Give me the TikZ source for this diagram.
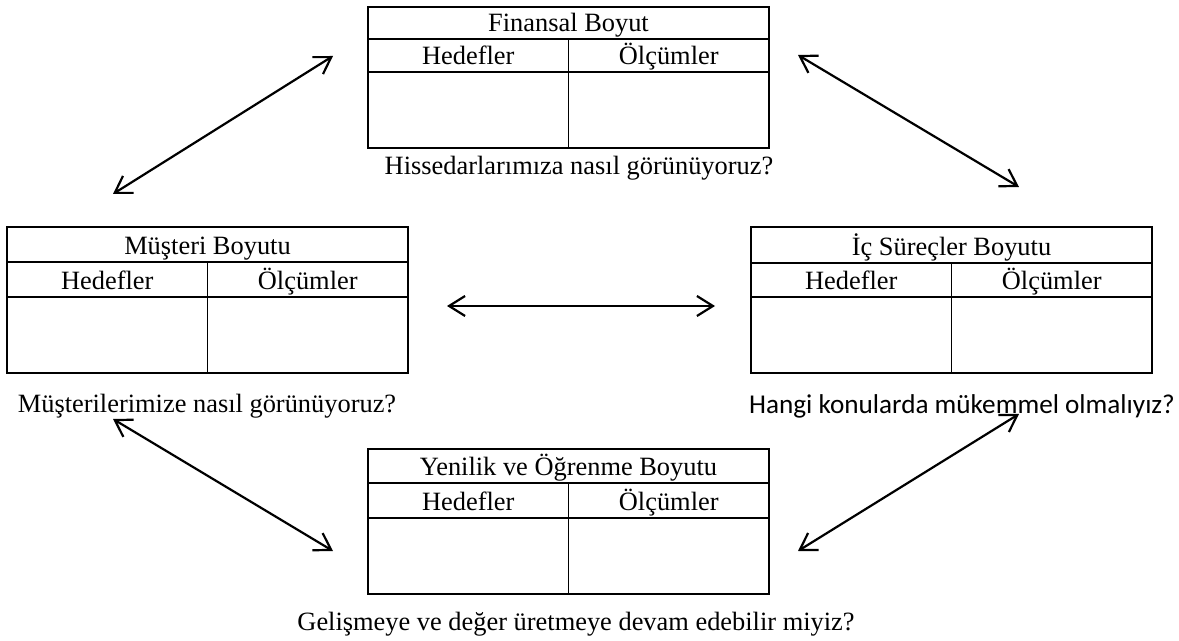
\documentclass[tikz,border=0pt]{standalone}
\usepackage{fontspec}
\setmainfont{Liberation Serif}
\newfontfamily\capfont{Carlito}
\usetikzlibrary{arrows.meta,fit}

\tikzset{
  tblbox/.style={draw, line width=0.6pt, inner sep=0pt},
  tblrule/.style={line width=0.6pt},
  celltext/.style={anchor=base, inner sep=0pt},
  caption/.style={anchor=base, inner sep=0pt},
  link/.style={line width=1.1pt,
    {Straight Barb[length=8pt,width=10pt]}-{Straight Barb[length=8pt,width=10pt]}},
}

% #1 name, #2 left, #3 top, #4 first rule, #5 second rule, #6 bottom, #7 title
\newcommand{\bsctable}[7]{%
  \node[tblbox, fit={(#2,#3) ({#2+401},#6)}] (#1) {};
  \draw[tblrule] (#2,#4) -- ({#2+401},#4);
  \draw[tblrule] (#2,#5) -- ({#2+401},#5);
  \draw[tblrule] ({#2+200.5},#4) -- ({#2+200.5},#6);
  \node[celltext] (#1-title) at ({#2+200.5},{#4-7.5}) {#7};
  \node[celltext] (#1-goals) at ({#2+100.25},{#5-7.5}) {Hedefler};
  \node[celltext] (#1-measures) at ({#2+300.75},{#5-7.5}) {Ölçümler};
}

\begin{document}
\begin{tikzpicture}[x=0.5pt,y=-0.5pt]
  \fontsize{13.2}{15}\selectfont
  \useasboundingbox[fill=white] (0,0) rectangle (1179,641);

  % the four perspectives
  \bsctable{fin}{368}{7}{39}{72}{148}{Finansal Boyut}
  \bsctable{cust}{7}{227}{262}{297}{373}{Müşteri Boyutu}
  \bsctable{proc}{751}{227}{263}{297}{373}{İç Süreçler Boyutu}
  \bsctable{learn}{368}{449}{483}{518}{594}{Yenilik ve Öğrenme Boyutu}

  % questions
  \node[caption] (finq) at (579,175) {Hissedarlarımıza nasıl görünüyoruz?};
  \node[caption] (custq) at (207,413) {Müşterilerimize nasıl görünüyoruz?};
  \node[caption] (procq) at (962,414) {\capfont\fontsize{13.6}{15}\selectfont Hangi konularda mükemmel olmalıyız?};
  \node[caption] (learnq) at (576,631) {Gelişmeye ve değer üretmeye devam edebilir miyiz?};

  % arrow ends
  \coordinate (a1s) at (113,194);  \coordinate (a1e) at (333,56);
  \coordinate (a2s) at (798,55);   \coordinate (a2e) at (1019,187);
  \coordinate (a3s) at (447,306);  \coordinate (a3e) at (715,306);
  \coordinate (a4s) at (113,419);  \coordinate (a4e) at (333,551);
  \coordinate (a5s) at (798,551);  \coordinate (a5e) at (1019,414);

  \draw[link] (a1s) -- (a1e);
  \draw[link] (a2s) -- (a2e);
  \draw[link] (a3s) -- (a3e);
  \draw[link] (a4s) -- (a4e);
  \draw[link] (a5s) -- (a5e);
\end{tikzpicture}
\end{document}
